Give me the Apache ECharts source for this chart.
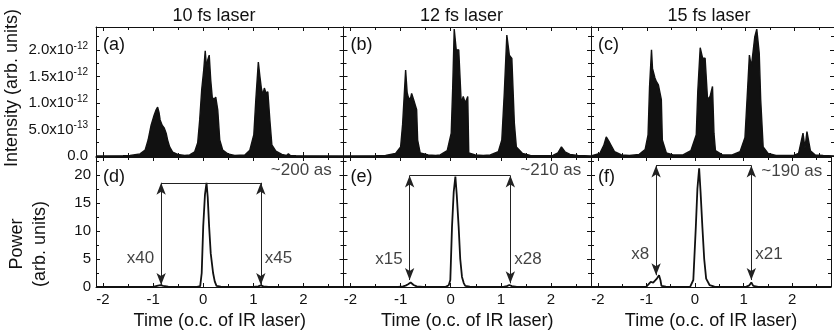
<!DOCTYPE html>
<html>
<head>
<meta charset="utf-8">
<script src="https://cdn.jsdelivr.net/npm/echarts@6/dist/echarts.min.js"></script>
<style>
  html, body { margin: 0; padding: 0; background: #fff; }
  #chart { width: 834px; height: 333px; }
</style>
</head>
<body>
<div id="chart"></div>
<script>
// titles and panel tags
var laserTitles = ['10 fs laser', '12 fs laser', '15 fs laser'];
var topTags = ['(a)', '(b)', '(c)'];
var bottomTags = ['(d)', '(e)', '(f)'];

// intensity envelopes: [time (o.c.), intensity (x1e-12 arb. units)]
var intensity10 = [[-2.14,0],[-1.6,0.005],[-1.46,0.01],[-1.26,0.04],[-1.16,0.11],[-1.10,0.30],[-1.04,0.58],[-0.98,0.77],[-0.94,0.87],[-0.91,0.92],[-0.88,0.81],[-0.86,0.68],[-0.82,0.58],[-0.78,0.53],[-0.74,0.43],[-0.71,0.30],[-0.67,0.17],[-0.61,0.075],[-0.51,0.03],[-0.37,0.01],[-0.27,0.02],[-0.17,0.08],[-0.11,0.25],[-0.07,0.68],[-0.03,1.25],[0.01,1.62],[0.04,1.98],[0.07,1.62],[0.09,1.81],[0.12,1.90],[0.15,1.43],[0.18,1.11],[0.21,1.06],[0.25,1.11],[0.29,0.87],[0.33,0.30],[0.39,0.11],[0.49,0.04],[0.63,0.01],[0.83,0.02],[0.93,0.11],[1.01,0.40],[1.05,1.06],[1.10,1.77],[1.13,1.51],[1.16,1.28],[1.19,1.15],[1.22,1.28],[1.25,1.19],[1.29,1.21],[1.33,0.68],[1.37,0.21],[1.45,0.09],[1.57,0.03],[1.66,0.01],[1.70,0.04],[1.74,0.01],[1.85,0.005],[2.8,0]];
var intensity12 = [[-2.14,0],[-1.5,0.005],[-1.30,0.01],[-1.10,0.05],[-1.00,0.17],[-0.96,0.6],[-0.90,1.62],[-0.87,1.2],[-0.85,1.12],[-0.81,1.05],[-0.78,1.18],[-0.74,1.06],[-0.68,0.87],[-0.66,0.30],[-0.61,0.06],[-0.45,0.02],[-0.30,0.01],[-0.21,0.02],[-0.07,0.1],[0.01,0.43],[0.04,1.3],[0.07,2.39],[0.11,2.0],[0.16,2.0],[0.21,1.0],[0.25,1.12],[0.29,1.0],[0.34,1.12],[0.36,0.06],[0.49,0.02],[0.65,0.01],[0.79,0.02],[0.95,0.08],[1.02,0.30],[1.07,1.2],[1.12,2.28],[1.17,1.9],[1.22,1.84],[1.27,0.62],[1.31,0.17],[1.43,0.05],[1.59,0.01],[1.85,0.005],[2.04,0.01],[2.14,0.06],[2.21,0.17],[2.28,0.08],[2.38,0.03],[2.54,0.01],[2.8,0]];
var intensity15 = [[-2.14,0],[-2.10,0.01],[-1.96,0.05],[-1.88,0.2],[-1.83,0.36],[-1.76,0.25],[-1.66,0.08],[-1.52,0.02],[-1.36,0.01],[-1.16,0.03],[-1.04,0.12],[-0.98,0.4],[-0.95,1.3],[-0.91,2.0],[-0.89,1.65],[-0.84,1.47],[-0.81,1.4],[-0.77,1.34],[-0.71,1.06],[-0.69,0.3],[-0.61,0.06],[-0.47,0.02],[-0.27,0.02],[-0.11,0.1],[0.00,0.4],[0.03,1.2],[0.08,2.04],[0.13,1.84],[0.18,1.84],[0.23,1.06],[0.28,1.12],[0.33,1.31],[0.36,0.43],[0.39,0.1],[0.53,0.02],[0.73,0.02],[0.89,0.08],[0.99,0.35],[1.04,1.2],[1.08,1.9],[1.12,1.68],[1.15,1.68],[1.19,2.25],[1.23,2.39],[1.28,1.94],[1.31,1.06],[1.36,0.17],[1.46,0.05],[1.62,0.01],[1.98,0.01],[2.08,0.05],[2.17,0.43],[2.21,0.15],[2.25,0.46],[2.32,0.1],[2.42,0.02],[2.58,0.01],[2.8,0]];

// attosecond pulse power: [time (o.c.), power (arb. units)]
var power10 = [[-2.14,0],[-1.1,0],[-0.98,0.05],[-0.9,0.25],[-0.85,0.35],[-0.8,0.2],[-0.7,0.05],[-0.5,0.01],[-0.12,0.02],[-0.06,0.15],[-0.03,2.5],[0.0,10.8],[0.035,16.5],[0.066,18.6],[0.09,16],[0.118,10.8],[0.15,6],[0.197,2.5],[0.23,1.0],[0.265,0.2],[0.35,0.05],[1.0,0.02],[1.1,0.1],[1.15,0.3],[1.2,0.1],[1.3,0.02],[2.8,0]];
var power12 = [[-2.14,0],[-1.05,0],[-0.95,0.1],[-0.9,0.25],[-0.85,0.5],[-0.8,0.8],[-0.77,0.6],[-0.74,0.35],[-0.68,0.1],[-0.55,0.02],[-0.1,0.02],[-0.04,0.3],[-0.008,1.25],[0.026,10.8],[0.06,17],[0.093,19.7],[0.12,16.5],[0.158,10.8],[0.19,5],[0.225,1.8],[0.26,0.7],[0.29,0.2],[0.38,0.05],[1.05,0.02],[1.12,0.15],[1.17,0.35],[1.22,0.15],[1.32,0.02],[2.8,0]];
var power15 = [[-2.14,0],[-1.1,0],[-1.0,0.05],[-0.96,0.2],[-0.91,0.9],[-0.86,0.8],[-0.82,1.0],[-0.78,1.55],[-0.74,2.1],[-0.71,1.2],[-0.69,0.2],[-0.6,0.05],[-0.1,0.02],[-0.06,0.25],[-0.034,1.25],[0.018,10.8],[0.05,17.5],[0.086,21.2],[0.115,17],[0.152,10.8],[0.19,5],[0.23,1.5],[0.3,0.35],[0.4,0.05],[1.05,0.02],[1.12,0.3],[1.16,0.8],[1.2,0.2],[1.3,0.02],[2.8,0]];

// arrow annotations in the power panels
var arrowLeftX = [-0.84, -0.82, -0.80];
var arrowRightX = [1.15, 1.19, 1.16];
var arrowTopY = [18.6, 19.9, 21.7];
var arrowLeftTipY = [0.35, 1.25, 2.1];
var arrowRightTipY = [0.35, 0.65, 1.25];
var leftFactors = ['x40', 'x15', 'x8'];
var rightFactors = ['x45', 'x28', 'x21'];
var factorY = [5.2, 5.0, 5.8];
var durations = ['~200 as', '~210 as', '~190 as'];
var durationY = [20.9, 20.9, 20.7];

var intensitySets = [intensity10, intensity12, intensity15];
var powerSets = [power10, power12, power15];

var FONT = 'Liberation Sans, Arial, Helvetica, sans-serif';
var INK = '#111';
var colLeft = [96, 343.5, 591];
var colWidth = 247.5;

var chart = echarts.init(document.getElementById('chart'), null, {renderer: 'canvas'});

var grids = [], xAxes = [], yAxes = [], series = [], graphics = [];

function isMultiple(v, step) {
  var r = v / step;
  return Math.abs(r - Math.round(r)) < 1e-6;
}

function xFmt(v) {
  return isMultiple(v, 1) ? String(Math.round(v)) : '';
}

function intensityFmt(v) {
  if (!isMultiple(v, 0.5)) return '';
  if (v === 0) return '{n|0.0}';
  if (v < 1) return '{n|' + (v * 10).toFixed(1) + 'x10}{s|-13}';
  return '{n|' + v.toFixed(1) + 'x10}{s|-12}';
}

function powerFmt(v) {
  return isMultiple(v, 5) ? String(Math.round(v)) : '';
}

function addAxes(gi, isTop, col) {
  var tick = {show: true, inside: true, length: 4, lineStyle: {color: INK}};
  var minor = {show: true, splitNumber: 2, length: 3, lineStyle: {color: INK}};
  var line = {show: true, onZero: false, lineStyle: {color: INK, width: 1}};
  var xBase = {
    type: 'value', gridIndex: gi, min: -2.14, max: 2.8,
    axisLine: line, axisTick: tick, minorTick: minor, splitLine: {show: false}
  };
  xAxes.push(Object.assign({}, xBase, {
    position: 'bottom',
    axisLabel: {show: !isTop, formatter: xFmt, color: INK, fontSize: 15, fontFamily: FONT, margin: 5},
    name: isTop ? '' : 'Time (o.c. of IR laser)',
    nameLocation: 'middle', nameGap: 25,
    nameTextStyle: {fontSize: 18, color: INK, fontFamily: FONT}
  }));
  xAxes.push(Object.assign({}, xBase, {position: 'top', axisLabel: {show: false}}));

  var yBase = {
    type: 'value', gridIndex: gi, min: 0,
    max: isTop ? 2.43 : 23.2, interval: isTop ? 0.5 : 5,
    axisLine: line, axisTick: tick, minorTick: minor, splitLine: {show: false}
  };
  var label = isTop ? {
    show: col === 0, formatter: intensityFmt, margin: 8,
    rich: {
      n: {fontSize: 15, fontFamily: FONT, color: INK, lineHeight: 18},
      s: {fontSize: 10, fontFamily: FONT, color: INK, lineHeight: 10, verticalAlign: 'top'}
    }
  } : {show: col === 0, formatter: powerFmt, color: INK, fontSize: 15, fontFamily: FONT, margin: 5};
  yAxes.push(Object.assign({}, yBase, {position: 'left', axisLabel: label}));
  yAxes.push(Object.assign({}, yBase, {position: 'right', axisLabel: {show: false}}));
}

for (var c = 0; c < 3; c++) {
  // top row: intensity
  var gTop = grids.length;
  grids.push({left: colLeft[c], top: 27, width: colWidth, height: 129});
  addAxes(gTop, true, c);
  series.push({
    type: 'line', xAxisIndex: gTop * 2, yAxisIndex: gTop * 2,
    data: intensitySets[c], showSymbol: false, animation: false,
    lineStyle: {color: INK, width: 1.4},
    areaStyle: {color: INK, opacity: 1}
  });

  // bottom row: power with arrows
  var gBot = grids.length;
  grids.push({left: colLeft[c], top: 157, width: colWidth, height: 130});
  addAxes(gBot, false, c);
  series.push({
    type: 'line', xAxisIndex: gBot * 2, yAxisIndex: gBot * 2,
    data: powerSets[c], showSymbol: false, animation: false,
    lineStyle: {color: INK, width: 1.8},
    markLine: {
      silent: true, animation: false,
      symbolSize: [7, 12],
      label: {show: false},
      lineStyle: {type: 'solid', color: '#222', width: 1},
      data: [
        [{coord: [arrowLeftX[c], arrowTopY[c]], symbol: 'none'},
         {coord: [arrowRightX[c], arrowTopY[c]], symbol: 'none'}],
        [{coord: [arrowLeftX[c], arrowTopY[c]], symbol: 'arrow'},
         {coord: [arrowLeftX[c], arrowLeftTipY[c]], symbol: 'arrow'}],
        [{coord: [arrowRightX[c], arrowTopY[c]], symbol: 'arrow'},
         {coord: [arrowRightX[c], arrowRightTipY[c]], symbol: 'arrow'}]
      ]
    }
  });
  series.push({
    type: 'scatter', xAxisIndex: gBot * 2, yAxisIndex: gBot * 2,
    symbolSize: 0, silent: true, animation: false,
    label: {show: true, color: INK, fontSize: 17, fontFamily: FONT},
    data: [
      {value: [arrowLeftX[c], factorY[c]], label: {position: 'left', distance: 7, formatter: leftFactors[c]}},
      {value: [arrowRightX[c], factorY[c]], label: {position: 'right', distance: 4, formatter: rightFactors[c]}},
      {value: [arrowRightX[c], durationY[c]], label: {position: 'right', distance: 10, formatter: durations[c]}}
    ]
  });

  graphics.push({
    type: 'text', x: colLeft[c] + 118, y: 16,
    style: {text: laserTitles[c], fontSize: 18, fontFamily: FONT, fill: INK, align: 'center', verticalAlign: 'middle'}
  });
  graphics.push({
    type: 'text', x: colLeft[c] + 7, y: 45,
    style: {text: topTags[c], fontSize: 18, fontFamily: FONT, fill: INK, align: 'left', verticalAlign: 'middle'}
  });
  graphics.push({
    type: 'text', x: colLeft[c] + 7, y: 177,
    style: {text: bottomTags[c], fontSize: 18, fontFamily: FONT, fill: INK, align: 'left', verticalAlign: 'middle'}
  });
}

graphics.push({
  type: 'text', x: 12, y: 88, rotation: Math.PI / 2,
  style: {text: 'Intensity (arb. units)', fontSize: 18, fontFamily: FONT, fill: INK, align: 'center', verticalAlign: 'middle'}
});
graphics.push({
  type: 'text', x: 17, y: 244, rotation: Math.PI / 2,
  style: {text: 'Power', fontSize: 18, fontFamily: FONT, fill: INK, align: 'center', verticalAlign: 'middle'}
});
graphics.push({
  type: 'text', x: 40, y: 244, rotation: Math.PI / 2,
  style: {text: '(arb. units)', fontSize: 18, fontFamily: FONT, fill: INK, align: 'center', verticalAlign: 'middle'}
});

chart.setOption({
  animation: false,
  backgroundColor: '#fff',
  grid: grids,
  xAxis: xAxes,
  yAxis: yAxes,
  series: series,
  graphic: graphics
});
</script>
</body>
</html>
